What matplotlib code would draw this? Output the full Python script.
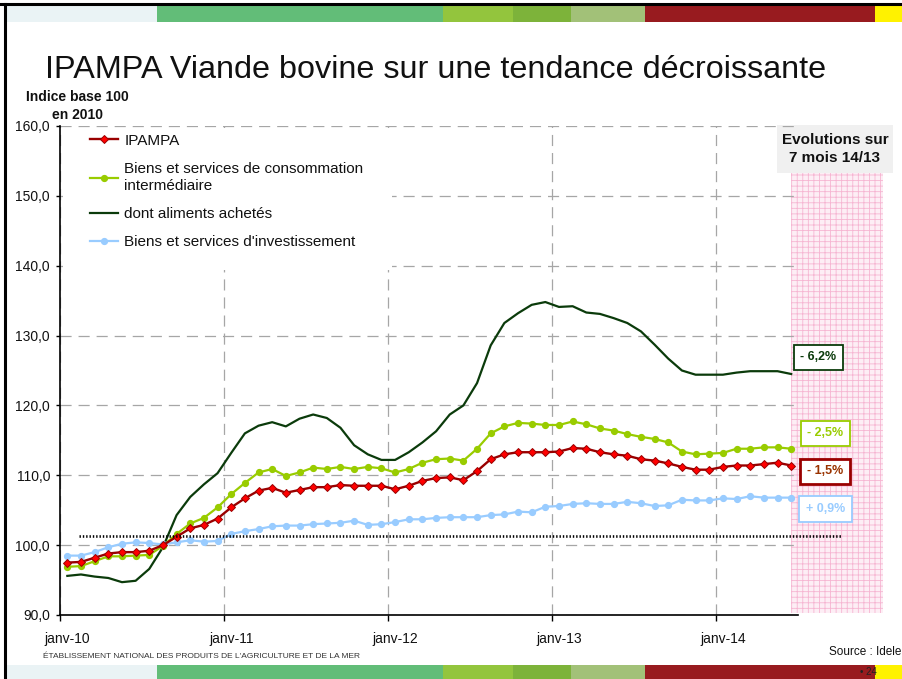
import matplotlib
matplotlib.use('Agg')
import matplotlib.pyplot as plt
from matplotlib.patches import Rectangle
import numpy as np
import pandas as pd

plt.rcParams['font.family'] = ['Liberation Sans', 'DejaVu Sans']
plt.rcParams['lines.scale_dashes'] = False
plt.rcParams['hatch.linewidth'] = 0.6

# ---------------- data ----------------
months = pd.date_range('2010-01-01', '2014-06-01', freq='MS')
year_labels = ['janv-10', 'janv-11', 'janv-12', 'janv-13', 'janv-14']

ipampa = [97.5, 97.6, 98.2, 98.8, 99.0, 99.0, 99.2, 100.0, 101.2, 102.4, 102.9, 103.8, 105.4,
          106.7, 107.8, 108.2, 107.5, 107.9, 108.3, 108.3, 108.6, 108.5, 108.5, 108.5, 108.0,
          108.5, 109.2, 109.6, 109.7, 109.3, 110.6, 112.3, 113.0, 113.3, 113.3, 113.3, 113.4,
          113.9, 113.8, 113.3, 113.0, 112.8, 112.3, 112.1, 111.7, 111.2, 110.8, 110.8, 111.2,
          111.4, 111.4, 111.6, 111.8, 111.4]
conso_inter = [96.9, 97.0, 97.7, 98.4, 98.4, 98.5, 98.6, 99.9, 101.6, 103.1, 103.9, 105.4, 107.3,
               108.9, 110.4, 110.9, 109.9, 110.4, 111.1, 110.9, 111.2, 110.9, 111.2, 111.0, 110.4,
               110.9, 111.8, 112.3, 112.4, 112.1, 113.8, 116.0, 117.0, 117.5, 117.4, 117.2, 117.2,
               117.7, 117.3, 116.7, 116.4, 115.9, 115.5, 115.2, 114.7, 113.4, 113.0, 113.1, 113.2,
               113.8, 113.8, 114.0, 114.0, 113.8]
aliments = [95.6, 95.8, 95.5, 95.3, 94.7, 94.9, 96.6, 99.7, 104.3, 106.9, 108.7, 110.3, 113.2,
            116.0, 117.1, 117.6, 117.0, 118.1, 118.7, 118.2, 116.8, 114.3, 113.0, 112.2, 112.2,
            113.3, 114.7, 116.3, 118.7, 120.0, 123.2, 128.6, 131.8, 133.2, 134.4, 134.8, 134.1,
            134.2, 133.3, 133.1, 132.5, 131.8, 130.6, 128.7, 126.7, 125.0, 124.4, 124.4, 124.4,
            124.7, 124.9, 124.9, 124.9, 124.5]
investissement = [98.5, 98.5, 99.0, 99.7, 100.2, 100.4, 100.3, 100.1, 100.4, 100.7, 100.5, 100.6, 101.6,
                  102.0, 102.3, 102.7, 102.8, 102.8, 103.0, 103.1, 103.2, 103.5, 102.9, 103.0, 103.3,
                  103.7, 103.7, 103.9, 104.0, 104.0, 104.0, 104.3, 104.4, 104.8, 104.7, 105.5, 105.6,
                  105.9, 106.0, 105.9, 105.9, 106.2, 106.0, 105.6, 105.7, 106.5, 106.4, 106.4, 106.7,
                  106.6, 107.0, 106.8, 106.8, 106.8]
evolutions = ['- 6,2%', '- 2,5%', '- 1,5%', '+ 0,9%']
ref_level = 101.3

# ---------------- figure ----------------
W, H = 903, 679
fig = plt.figure(figsize=(W / 100, H / 100), dpi=100)


def fx(x):
    return x / W


def fy(y):
    return 1 - y / H


def frect(x0, y0, x1, y1, **kw):
    r = Rectangle((fx(x0), fy(y1)), fx(x1) - fx(x0), fy(y0) - fy(y1),
                  transform=fig.transFigure, **kw)
    fig.add_artist(r)
    return r


# decorative slide bands
band_segments = [(5, 157, '#eaf3f5'), (157, 443, '#62bd78'), (443, 513, '#93c53d'),
                 (513, 571, '#7db33a'), (571, 645, '#a2c178'), (645, 875, '#981b1f'),
                 (875, 903, '#fff200')]
for x0, x1, c in band_segments:
    frect(x0, 6, x1, 22, facecolor=c, edgecolor='none', zorder=-3)
    frect(x0, 665, x1, 679, facecolor=c, edgecolor='none', zorder=-3)
fig.add_artist(plt.Line2D([0, 1], [fy(4), fy(4)], transform=fig.transFigure, color='black', lw=2.2))
fig.add_artist(plt.Line2D([fx(5), fx(5)], [0, fy(4)], transform=fig.transFigure, color='black', lw=2.2))

# pink hatched zone (behind the axes)
frect(791, 173, 883, 613, facecolor='#fdeef5', edgecolor='#f6b5d2', hatch='+++', lw=0, zorder=-2)
# evolutions header
frect(777, 125, 893, 173, facecolor='#f0f0f0', edgecolor='none', zorder=-1)
fig.text(fx(835), fy(149), 'Evolutions sur\n7 mois 14/13', ha='center', va='center',
         fontsize=11, fontweight='bold', linespacing=1.3, color='#111111')

# ---------------- axes ----------------
ax = fig.add_axes([fx(60.5), fy(615), fx(798) - fx(60.5), fy(126) - fy(615)])
ax.set_facecolor('none')
ax.set_zorder(1)
x = np.arange(len(months))

ax.set_xlim(-0.5, len(months) - 0.5)
ax.set_ylim(90, 160)
ax.set_yticks(np.arange(90, 161, 10))
ax.set_yticklabels([f'{v:.1f}'.replace('.', ',') for v in np.arange(90, 161, 10)])
year_pos = [i for i, m in enumerate(months) if m.month == 1]
ax.set_xticks([p - 0.5 for p in year_pos])
ax.set_xticklabels([])
ax.set_xticks(year_pos, minor=True)
ax.set_xticklabels(year_labels, minor=True)
ax.tick_params(axis='x', which='major', length=4, width=1, direction='out')
ax.tick_params(axis='x', which='minor', length=0, pad=12, labelsize=10, labelcolor='#111111')
ax.tick_params(axis='y', length=3, width=1, direction='out', pad=4.5, labelsize=10, labelcolor='#111111')

for s in ['top', 'right']:
    ax.spines[s].set_visible(False)
for s in ['left', 'bottom']:
    ax.spines[s].set_linewidth(1.2)
    ax.spines[s].set_color('black')

ax.set_axisbelow(True)
ax.grid(True, which='major', color='#a6a6a6', lw=0.9, linestyle=(0, (8, 5)))

# white legend background covering grid
ax.add_patch(Rectangle((0.004, 0.7055), 0.445, 0.287, transform=ax.transAxes,
                       facecolor='white', edgecolor='none', zorder=1))

l1, = ax.plot(x, ipampa, color='#990000', lw=1.7, marker='D', ms=4.4,
              mfc='#ff0000', mec='#990000', mew=0.7, zorder=5, label='IPAMPA')
l2, = ax.plot(x, conso_inter, color='#99cc00', lw=1.6, marker='o', ms=4.2,
              mfc='#99cc00', mec='#99cc00', zorder=4,
              label='Biens et services de consommation\nintermédiaire')
l3, = ax.plot(x, aliments, color='#0b3b0b', lw=1.6, zorder=3, label='dont aliments achetés')
l4, = ax.plot(x, investissement, color='#99ccff', lw=1.6, marker='o', ms=4.2,
              mfc='#99ccff', mec='#99ccff', zorder=4, label="Biens et services d'investissement")

ax.axhline(ref_level, xmin=0.025, xmax=1.06, color='black', lw=1.9,
           linestyle=(0, (1, 1.4)), clip_on=False, zorder=6)

leg = ax.legend(handles=[l1, l2, l3, l4], loc='upper left',
                bbox_to_anchor=(0.04, 0.984), frameon=False, fontsize=11,
                handlelength=1.85, handletextpad=0.4, labelspacing=0.92,
                borderpad=0, borderaxespad=0, numpoints=1)
for t in leg.get_texts():
    t.set_color('#111111')
    t.set_linespacing(1.3)

# y-axis title
fig.text(fx(77.5), fy(106), 'Indice base 100\nen 2010', ha='center', va='center',
         fontsize=10, fontweight='bold', linespacing=1.3, color='#111111')

# title
fig.text(fx(45), fy(70), 'IPAMPA Viande bovine sur une tendance décroissante',
         ha='left', va='center', fontsize=23.3, color='#111111')

# evolution labels
evo_style = [
    (818.5, 357.5, '#0b3b0b', '#0b3b0b', 1.3),
    (825.5, 433.5, '#99cc00', '#99cc00', 1.3),
    (825.5, 471.5, '#993300', '#990000', 2.0),
    (825.5, 509.0, '#99ccff', '#99ccff', 1.3),
]
for txt, (cx, cy, tc, ec, lw) in zip(evolutions, evo_style):
    fig.text(fx(cx), fy(cy), txt, ha='center', va='center', fontsize=9,
             fontweight='bold', color=tc, zorder=10,
             bbox=dict(boxstyle='square,pad=0.55', facecolor='white', edgecolor=ec, lw=lw))

# footer texts
fig.text(fx(829), fy(652), 'Source : Idele', ha='left', va='center', fontsize=8.5, color='#111111')
fig.text(fx(43), fy(656), "ÉTABLISSEMENT NATIONAL DES PRODUITS DE L'AGRICULTURE ET DE LA MER",
         ha='left', va='center', fontsize=6.0, color='#333333')
fig.text(fx(860), fy(672), '• 24', ha='left', va='center', fontsize=7, color='#222222')

fig.savefig('out.png', dpi=100)
